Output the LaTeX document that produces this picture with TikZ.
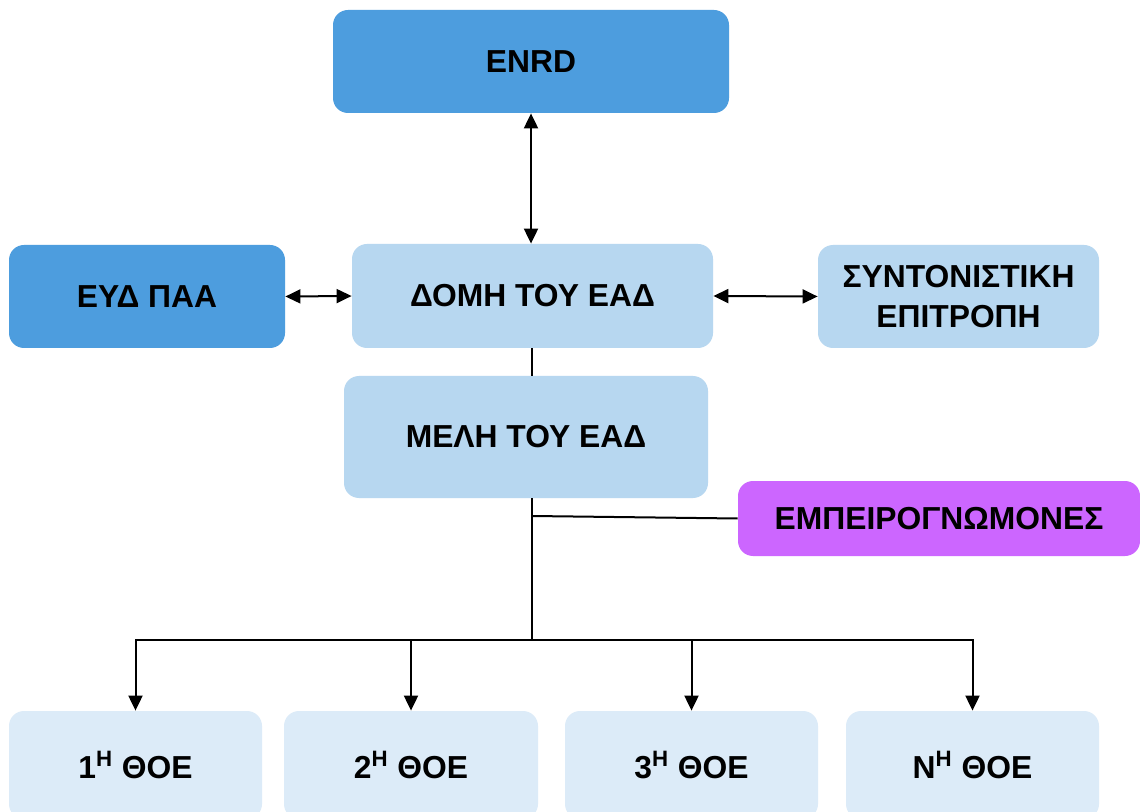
\documentclass[tikz,border=0pt]{standalone}
\usepackage{fontspec}
\setmainfont{Liberation Sans}
\usetikzlibrary{arrows.meta}
\definecolor{darkblue}{RGB}{77,157,222}
\definecolor{midblue}{RGB}{183,215,240}
\definecolor{paleblue}{RGB}{220,235,248}
\definecolor{violetbox}{RGB}{204,102,255}
\tikzset{
  box/.style={rounded corners=7.5pt, draw=none, align=center, inner sep=0pt,
    font=\fontsize{15.9pt}{20pt}\selectfont\bfseries, text=black},
  conn/.style={line width=1pt, draw=black},
  tip/.style={-{Triangle[length=7.5pt,width=7pt]}},
  tips/.style={{Triangle[length=7.5pt,width=7pt]}-{Triangle[length=7.5pt,width=7pt]}}
}
\begin{document}
\begin{tikzpicture}[x=0.5pt,y=-0.5pt]
\useasboundingbox (0,0) rectangle (1140,812);
\fill[white] (0,0) rectangle (1140,812);
\clip (0,0) rectangle (1140,812);
\node[box, fill=darkblue, minimum width=198pt, minimum height=51.5pt] (enrd) at (531,61.5) {ENRD};
\node[box, fill=darkblue, minimum width=138pt, minimum height=51.5pt] (eyd) at (147,296.5) {ΕΥΔ ΠΑΑ};
\node[box, fill=midblue, minimum width=180.5pt, minimum height=52pt] (domi) at (532.5,296) {ΔΟΜΗ ΤΟΥ ΕΑΔ};
\node[box, fill=midblue, minimum width=140.5pt, minimum height=51.5pt] (syn) at (958.5,296.5) {ΣΥΝΤΟΝΙΣΤΙΚΗ\\ΕΠΙΤΡΟΠΗ};
\node[box, fill=midblue, minimum width=182pt, minimum height=61pt] (meli) at (526,437) {ΜΕΛΗ ΤΟΥ ΕΑΔ};
\node[box, fill=violetbox, minimum width=201pt, minimum height=37.5pt] (emp) at (939,518.5) {ΕΜΠΕΙΡΟΓΝΩΜΟΝΕΣ};
\node[box, fill=paleblue, minimum width=126.5pt, minimum height=54pt] (b1) at (135.5,765) {1\textsuperscript{Η} ΘΟΕ};
\node[box, fill=paleblue, minimum width=127pt, minimum height=54pt] (b2) at (411,765) {2\textsuperscript{Η} ΘΟΕ};
\node[box, fill=paleblue, minimum width=126.5pt, minimum height=54pt] (b3) at (691.5,765) {3\textsuperscript{Η} ΘΟΕ};
\node[box, fill=paleblue, minimum width=126.5pt, minimum height=54pt] (bn) at (972.5,765) {Ν\textsuperscript{Η} ΘΟΕ};
\coordinate (e) at (532,516);
\coordinate (j) at (532,640);
\draw[conn,tips] (enrd.south) -- (enrd.south |- domi.north);
\draw[conn,tips] (eyd.east) -- (domi.west);
\draw[conn,tips] (domi.east) -- (syn.west);
\draw[conn] (domi.south -| e) -- (meli.north -| e);
\draw[conn] (meli.south -| e) -- (j);
\draw[conn] (e) -- (emp.west);
\draw[conn,tip] (j) -| (b1.north);
\draw[conn,tip] (j) -| (b2.north);
\draw[conn,tip] (j) -| (b3.north);
\draw[conn,tip] (j) -| (bn.north);
\end{tikzpicture}
\end{document}
